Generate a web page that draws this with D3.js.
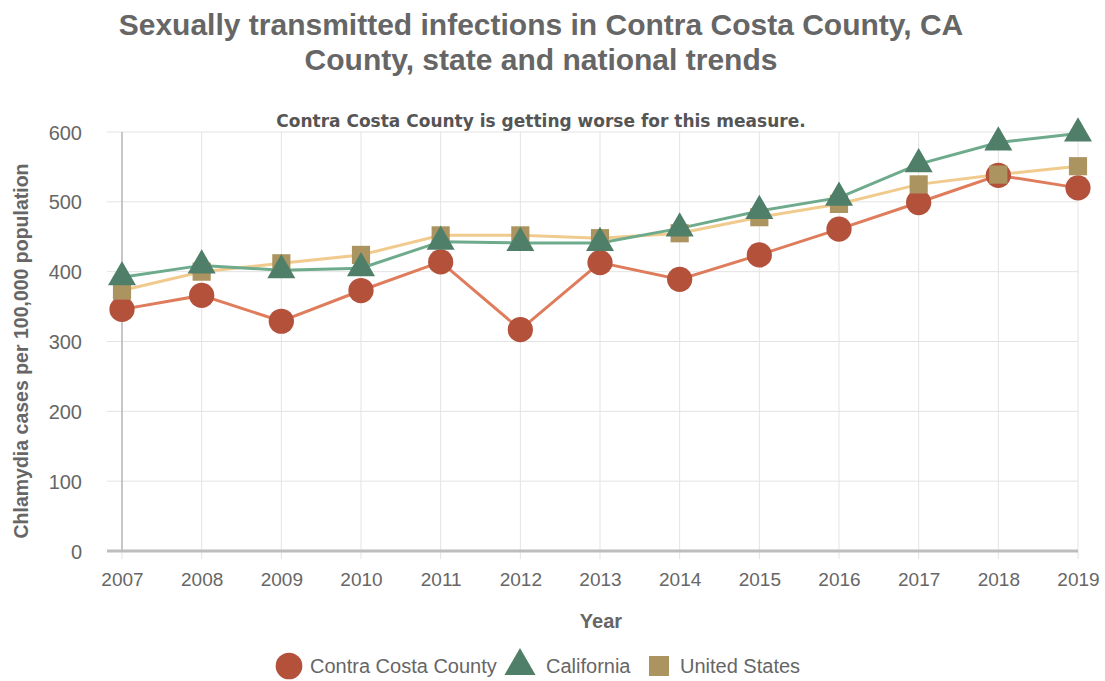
<!DOCTYPE html>
<html><head><meta charset="utf-8">
<script src="https://cdnjs.cloudflare.com/ajax/libs/d3/7.8.5/d3.min.js"></script>
<style>body{margin:0;background:#fff;font-family:"Liberation Sans",Arial,sans-serif;}</style>
</head><body><svg id="c" width="1105" height="681"></svg>
<script>
const years = [2007,2008,2009,2010,2011,2012,2013,2014,2015,2016,2017,2018,2019];
const county = [346,366,329,373,414,317,413,389,424,461,499,538,520];
const california = [392,409,402,405,443,441,441,462,487,506,554,585,598];
const unitedStates = [373,400,412,424,452,452,448,455,478,497,525,539,551];
const yTicks = [0,100,200,300,400,500,600];
const seriesNames = ["Contra Costa County","California","United States"];

const FONT = "Liberation Sans, Arial, sans-serif";
const svg = d3.select("#c");
const m = {l:122, r:1078, t:132, b:551};
const x = d3.scalePoint().domain(years).range([m.l, m.r]);
const y = d3.scaleLinear().domain([0,600]).range([m.b, m.t]);

// grid
svg.append("g").selectAll("line").data(yTicks).join("line")
  .attr("x1", m.l-15).attr("x2", m.r).attr("y1", d=>y(d)).attr("y2", d=>y(d))
  .attr("stroke","#e3e3e3").attr("stroke-width",1);
svg.append("g").selectAll("line").data(years).join("line")
  .attr("x1", d=>x(d)).attr("x2", d=>x(d)).attr("y1", m.t).attr("y2", m.b+8)
  .attr("stroke","#e3e3e3").attr("stroke-width",1);
// axes lines
svg.append("line").attr("x1",m.l).attr("x2",m.l).attr("y1",m.t).attr("y2",m.b)
  .attr("stroke","#b8b8b8").attr("stroke-width",1.5);
svg.append("line").attr("x1",m.l-15).attr("x2",m.r).attr("y1",m.b).attr("y2",m.b)
  .attr("stroke","#bdbdbd").attr("stroke-width",3);

// y labels
const yAxis = d3.axisLeft(y).tickValues(yTicks).tickSize(0).tickPadding(0);
const gy = svg.append("g").attr("transform",`translate(${m.l-40},0)`).call(yAxis);
gy.select(".domain").remove();
gy.selectAll("text").attr("font-size",20).attr("fill","#666").attr("font-family",FONT).attr("dy","0.35em");
// x labels
const xAxis = d3.axisBottom(x).tickSize(0).tickPadding(0).tickFormat(d3.format("d"));
const gx = svg.append("g").attr("transform",`translate(0,${m.b})`).call(xAxis);
gx.select(".domain").remove();
gx.selectAll("text").attr("font-size",19).attr("fill","#666").attr("font-family",FONT).attr("y",35).attr("dy",null);

// titles
const t = svg.append("g").attr("font-family",FONT).attr("fill","#666").attr("font-weight","bold");
t.append("text").attr("x",541).attr("y",35).attr("text-anchor","middle").attr("font-size",30).text("Sexually transmitted infections in Contra Costa County, CA");
t.append("text").attr("x",541).attr("y",70).attr("text-anchor","middle").attr("font-size",30).text("County, state and national trends");
t.append("text").attr("x",541).attr("y",127).attr("text-anchor","middle").attr("font-size",17).attr("font-family","DejaVu Sans, Verdana, sans-serif").attr("fill","#555").text("Contra Costa County is getting worse for this measure.");
t.append("text").attr("x",601).attr("y",628).attr("text-anchor","middle").attr("font-size",20).text("Year");
t.append("text").attr("transform","translate(28,351) rotate(-90)").attr("text-anchor","middle").attr("font-size",19.5).text("Chlamydia cases per 100,000 population");

const series = [
  {name:seriesNames[0], vals:county, line:"#df7c5c", mark:"#b3513b", sym:d3.symbolCircle, size:500},
  {name:seriesNames[2], vals:unitedStates, line:"#f1cb8d", mark:"#ac9461", sym:d3.symbolSquare, size:330},
  {name:seriesNames[1], vals:california, line:"#6eab8d", mark:"#4f7f68", sym:d3.symbolTriangle, size:340},
];
const lineGen = d3.line().x((d,i)=>x(years[i])).y(d=>y(d));
series.forEach(s=>{
  svg.append("path").datum(s.vals).attr("d",lineGen).attr("fill","none").attr("stroke",s.line).attr("stroke-width",3);
});
series.forEach(s=>{
  svg.append("g").selectAll("path").data(s.vals).join("path")
    .attr("transform",(d,i)=>`translate(${x(years[i])},${y(d)})`)
    .attr("d", d3.symbol().type(s.sym).size(s.size)).attr("fill",s.mark);
});

// legend
const leg = [
  {name:seriesNames[0], sym:d3.symbolCircle, size:560, color:"#b3513b", sx:289, tx:310},
  {name:seriesNames[1], sym:d3.symbolTriangle, size:420, color:"#4f7f68", sx:520, tx:546},
  {name:seriesNames[2], sym:d3.symbolSquare, size:400, color:"#ac9461", sx:659, tx:680},
];
const lg = svg.append("g");
leg.forEach(l=>{
  lg.append("path").attr("transform",`translate(${l.sx},666)`).attr("d",d3.symbol().type(l.sym).size(l.size)).attr("fill",l.color);
  lg.append("text").attr("x",l.tx).attr("y",666).attr("dy","0.35em").attr("font-size",20)
    .attr("fill","#666").attr("font-family",FONT).text(l.name);
});
</script></body></html>
